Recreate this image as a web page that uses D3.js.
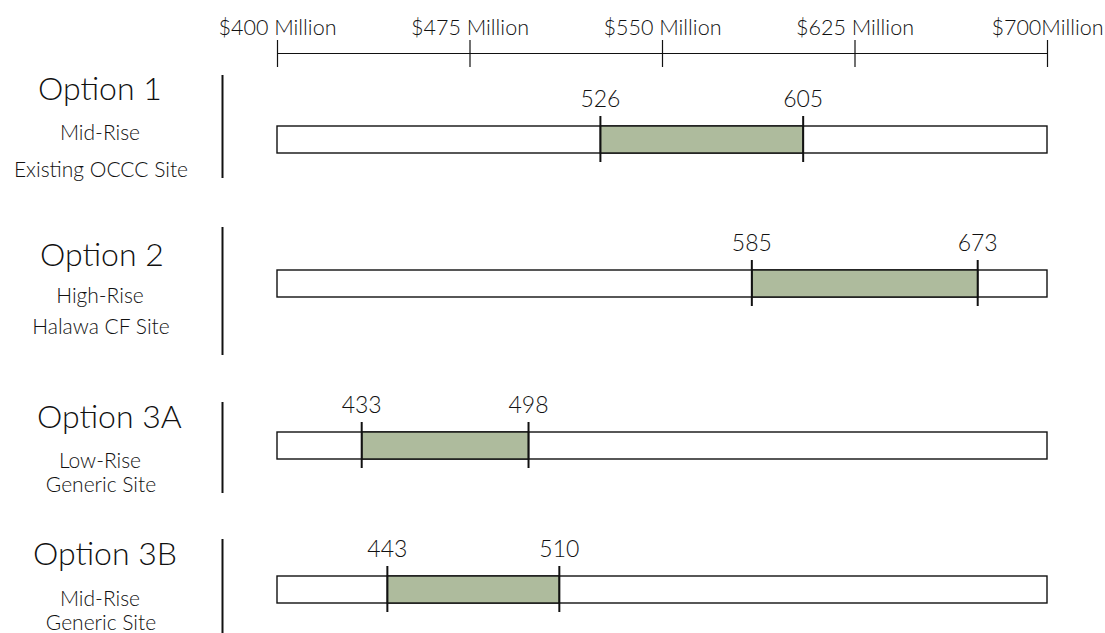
<!DOCTYPE html>
<html>
<head>
<meta charset="utf-8">
<script src="https://cdn.jsdelivr.net/npm/d3@7"></script>
<style>
  html, body { margin: 0; padding: 0; background: #fff; }
  svg { display: block; font-family: "Lato", "Noto Sans", sans-serif; font-weight: 300; }
</style>
</head>
<body>
<svg id="chart" width="1105" height="633"></svg>
<script>
// Cost range per option (millions of dollars)
const options = ["Option 1", "Option 2", "Option 3A", "Option 3B"];
const buildingTypes = ["Mid-Rise", "High-Rise", "Low-Rise", "Mid-Rise"];
const sites = ["Existing OCCC Site", "Halawa CF Site", "Generic Site", "Generic Site"];
const lowValues = [526, 585, 433, 443];
const highValues = [605, 673, 498, 510];

// Axis ticks
const tickValues = [400, 475, 550, 625, 700];
const tickLabels = ["$400 Million", "$475 Million", "$550 Million", "$625 Million", "$700Million"];

// Row layout (label block positions per option)
const rowLayout = [
  { barTop: 126, titleX: 38, title: 100, sub1: 140, sub2: 177, sep: [75, 178] },
  { barTop: 270, titleX: 40, title: 266, sub1: 303, sub2: 334, sep: [227, 355] },
  { barTop: 432, titleX: 37, title: 428, sub1: 468, sub2: 492, sep: [402, 493] },
  { barTop: 576, titleX: 33, title: 565, sub1: 606, sub2: 630, sep: [539, 633] }
];

const ink = "#111";
const fillGreen = "#aebb9d";
const barH = 27;

const svg = d3.select("#chart");

const x = d3.scaleLinear()
  .domain([d3.min(tickValues), d3.max(tickValues)])
  .range([277, 1047]);

// Top axis, ticks crossing the axis line
const axisY = 53;
const axis = d3.axisTop(x)
  .tickValues(tickValues)
  .tickFormat((d, i) => tickLabels[i])
  .tickSizeInner(13)
  .tickSizeOuter(0)
  .tickPadding(5);

const gAxis = svg.append("g")
  .attr("transform", `translate(0,${axisY})`)
  .call(axis);
gAxis.select(".domain").attr("stroke", ink).attr("stroke-width", 1.2);
gAxis.selectAll(".tick line").attr("stroke", ink).attr("stroke-width", 1.2)
  .attr("y1", 14).attr("y2", -13);
gAxis.selectAll(".tick text")
  .attr("fill", ink)
  .style("font-family", "Lato, sans-serif")
  .style("font-weight", "300")
  .style("font-size", "21.5px");

const rows = svg.selectAll("g.row")
  .data(options.map((name, i) => ({
    name, type: buildingTypes[i], site: sites[i],
    low: lowValues[i], high: highValues[i], lay: rowLayout[i]
  })))
  .join("g")
  .attr("class", "row");

// Row labels
rows.append("text")
  .attr("x", d => d.lay.titleX)
  .attr("y", d => d.lay.title)
  .attr("fill", ink)
  .style("font-size", "32px")
  .text(d => d.name);

rows.append("text")
  .attr("x", 100)
  .attr("y", d => d.lay.sub1)
  .attr("text-anchor", "middle")
  .attr("fill", ink)
  .style("font-size", "21px")
  .text(d => d.type);

rows.append("text")
  .attr("x", 101)
  .attr("y", d => d.lay.sub2)
  .attr("text-anchor", "middle")
  .attr("fill", ink)
  .style("font-size", "21px")
  .text(d => d.site);

// Separator
rows.append("line")
  .attr("x1", 222.5).attr("x2", 222.5)
  .attr("y1", d => d.lay.sep[0])
  .attr("y2", d => d.lay.sep[1])
  .attr("stroke", ink)
  .attr("stroke-width", 2);

// Full-scale track
rows.append("rect")
  .attr("x", x(400))
  .attr("y", d => d.lay.barTop)
  .attr("width", x(700) - x(400))
  .attr("height", barH)
  .attr("fill", "#fff")
  .attr("stroke", ink)
  .attr("stroke-width", 1.4);

// Cost range
rows.append("rect")
  .attr("x", d => x(d.low))
  .attr("y", d => d.lay.barTop)
  .attr("width", d => x(d.high) - x(d.low))
  .attr("height", barH)
  .attr("fill", fillGreen)
  .attr("stroke", ink)
  .attr("stroke-width", 1.4);

// Range end markers and labels
rows.each(function(d) {
  const g = d3.select(this);
  [d.low, d.high].forEach(v => {
    g.append("line")
      .attr("x1", x(v)).attr("x2", x(v))
      .attr("y1", d.lay.barTop - 10)
      .attr("y2", d.lay.barTop + barH + 9)
      .attr("stroke", ink)
      .attr("stroke-width", 2);
    g.append("text")
      .attr("x", x(v))
      .attr("y", d.lay.barTop - 19)
      .attr("text-anchor", "middle")
      .attr("fill", ink)
      .style("font-size", "23px")
      .text(v);
  });
});
</script>
</body>
</html>
